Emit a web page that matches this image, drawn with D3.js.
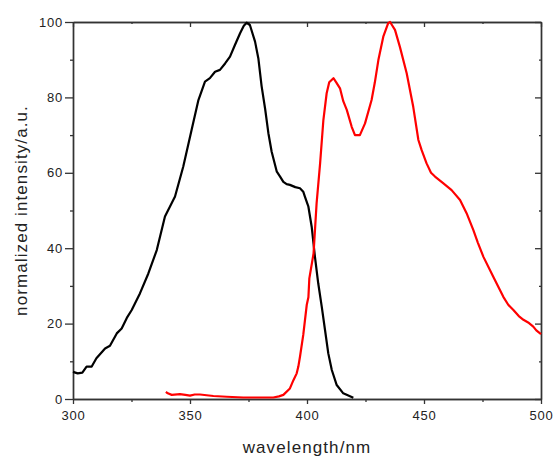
<!DOCTYPE html>
<html>
<head>
<meta charset="utf-8">
<script src="https://cdn.jsdelivr.net/npm/d3@7"></script>
<style>
  html, body { margin: 0; padding: 0; background: #fff; }
  svg { display: block; }
  text { font-family: "Liberation Sans", Arial, sans-serif; fill: #222; }
</style>
</head>
<body>
<svg id="chart" width="554" height="457"></svg>
<script>
// Excitation spectrum (black)
const blackWavelength = [300, 302, 304, 305.8, 308, 310, 312, 313.7, 315.8, 318.7, 320.8, 323, 325.1, 328.6, 332.2, 335.8, 339.3, 343.6, 347.1, 350.7, 353.6, 356.4, 358.5, 360.7, 362.8, 365, 367.1, 369.2, 371.4, 373, 374.2, 375.6, 377.8, 379.2, 380.6, 382.1, 383.5, 384.9, 387.1, 388.5, 389.9, 391.3, 392.7, 395, 397, 398.4, 399.1, 400.6, 402, 403.4, 404.8, 406.3, 407.7, 409.1, 410.6, 412.7, 415.5, 419.8];
const blackIntensity  = [7.2, 6.8, 7.0, 8.6, 8.6, 10.8, 12.2, 13.4, 14.1, 17.4, 18.7, 21.5, 23.6, 28.0, 33.3, 39.5, 48.4, 53.7, 61.6, 71.4, 79.3, 84.2, 85.1, 86.8, 87.3, 89.0, 90.8, 93.9, 97.0, 99.0, 99.8, 99.2, 94.8, 90.4, 83.0, 77.0, 70.5, 65.6, 60.3, 59.0, 57.6, 57.0, 56.8, 56.2, 55.9, 55.0, 53.7, 51.0, 45.7, 37.7, 30.7, 24.5, 18.3, 12.1, 7.7, 3.7, 1.5, 0.3];

// Emission spectrum (red)
const redWavelength = [339.7, 340.5, 342.2, 345.7, 348, 350, 352, 354.3, 357.1, 360, 365.7, 372.8, 380, 385.6, 388, 389.9, 392.7, 394.2, 395.6, 396.3, 397, 398.4, 399.9, 400.6, 401, 402.8, 404.1, 405.6, 407, 408.4, 409.5, 411.3, 412.5, 414.1, 415.5, 417, 419.1, 420.5, 422.6, 424.8, 427.6, 429, 430.5, 432.6, 434.7, 435.5, 436.5, 437.6, 439.7, 442.6, 445.4, 447.6, 449, 451.1, 453, 454.7, 458.3, 461.8, 465.4, 468.2, 471.1, 473, 475.4, 479.6, 483.9, 486, 488.2, 490.5, 492.5, 494.5, 496.7, 498, 500];
const redIntensity  = [1.9, 1.5, 1.1, 1.3, 1.1, 0.9, 1.2, 1.2, 1.0, 0.8, 0.6, 0.4, 0.4, 0.4, 0.7, 1.1, 2.8, 5.0, 6.8, 8.6, 11.2, 17.0, 25.0, 27.0, 32.0, 38.6, 51.9, 62.5, 74.0, 81.1, 84.0, 85.1, 84.0, 82.4, 79.0, 76.7, 72.2, 70.0, 70.0, 73.1, 79.3, 84.0, 89.9, 96.1, 99.7, 100, 99.0, 97.9, 93.4, 86.4, 77.5, 68.7, 66.0, 62.5, 60.0, 59.0, 57.2, 55.4, 52.8, 49.3, 44.8, 41.5, 37.7, 32.4, 27.1, 25.0, 23.6, 22.0, 21.0, 20.3, 19.2, 18.2, 17.2];

const xTicks = [300, 350, 400, 450, 500];
const xMinorTicks = [325, 375, 425, 475];
const yTicks = [0, 20, 40, 60, 80, 100];
const yMinorTicks = [10, 30, 50, 70, 90];
const xTitle = "wavelength/nm";
const yTitle = "normalized intensity/a.u.";

const W = 554, H = 457;
const margin = { left: 73, right: 13, top: 22, bottom: 58 };
const svg = d3.select("#chart");
svg.append("rect").attr("width", W).attr("height", H).attr("fill", "#fff");

const x = d3.scaleLinear().domain([300, 500]).range([margin.left, W - margin.right]);
const y = d3.scaleLinear().domain([0, 100]).range([H - margin.bottom, margin.top]);

const axisColor = "#333";
const tickFont = "13px";

// Bottom axis (outward ticks)
const gB = svg.append("g").attr("transform", `translate(0,${y(0)})`);
gB.call(d3.axisBottom(x).tickValues(xTicks).tickSize(5).tickSizeOuter(0).tickPadding(7).tickFormat(d3.format("d")));
gB.append("g").call(d3.axisBottom(x).tickValues(xMinorTicks).tickSize(3).tickSizeOuter(0).tickFormat(""));

// Left axis (outward ticks)
const gL = svg.append("g").attr("transform", `translate(${x(300)},0)`);
gL.call(d3.axisLeft(y).tickValues(yTicks).tickSize(8).tickSizeOuter(0).tickPadding(2).tickFormat(d3.format("d")));
gL.append("g").call(d3.axisLeft(y).tickValues(yMinorTicks).tickSize(3).tickSizeOuter(0).tickFormat(""));

// Top axis (inward ticks)
const gT = svg.append("g").attr("transform", `translate(0,${y(100)})`);
gT.call(d3.axisBottom(x).tickValues(xTicks).tickSize(5).tickSizeOuter(0).tickFormat(""));
gT.append("g").call(d3.axisBottom(x).tickValues(xMinorTicks).tickSize(2).tickSizeOuter(0).tickFormat(""));

// Right axis (inward ticks)
const gR = svg.append("g").attr("transform", `translate(${x(500)},0)`);
gR.call(d3.axisLeft(y).tickValues(yTicks).tickSize(6).tickSizeOuter(0).tickFormat(""));
gR.append("g").call(d3.axisLeft(y).tickValues(yMinorTicks).tickSize(2).tickSizeOuter(0).tickFormat(""));

svg.selectAll(".domain").attr("stroke", axisColor).attr("stroke-width", 1.4);
svg.selectAll(".tick line").attr("stroke", axisColor).attr("stroke-width", 1.3);
svg.selectAll(".tick text")
  .style("font-family", '"Liberation Sans", Arial, sans-serif')
  .style("font-size", tickFont)
  .style("letter-spacing", "0.8px")
  .attr("fill", "#222");

// Curves
const line = d3.line().x(d => x(d[0])).y(d => y(d[1]));
const blackData = blackWavelength.map((w, i) => [w, blackIntensity[i]]);
const redData = redWavelength.map((w, i) => [w, redIntensity[i]]);

svg.append("path").datum(blackData).attr("d", line)
  .attr("fill", "none").attr("stroke", "#000").attr("stroke-width", 2.2).attr("stroke-linejoin", "round");
svg.append("path").datum(redData).attr("d", line)
  .attr("fill", "none").attr("stroke", "#ff0000").attr("stroke-width", 2.2).attr("stroke-linejoin", "round");

// Titles
svg.append("text")
  .attr("x", (x(300) + x(500)) / 2)
  .attr("y", 453)
  .attr("text-anchor", "middle")
  .style("font-size", "17px")
  .style("letter-spacing", "1.1px")
  .text(xTitle);

svg.append("text")
  .attr("transform", `translate(27,${(y(0) + y(100)) / 2}) rotate(-90)`)
  .attr("text-anchor", "middle")
  .style("font-size", "17px")
  .style("letter-spacing", "1.1px")
  .text(yTitle);
</script>
</body>
</html>
